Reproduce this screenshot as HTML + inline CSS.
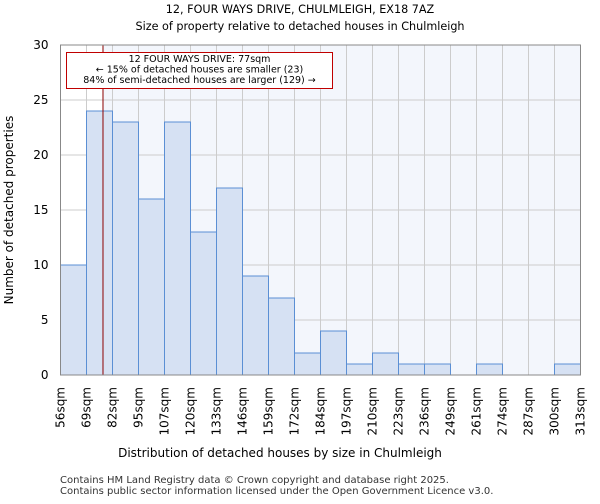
<!DOCTYPE html>
<html><head><meta charset="utf-8"><style>
body{margin:0;background:#fff;font-family:"DejaVu Sans","Liberation Sans",sans-serif;}
</style></head><body>
<svg id="chart" width="600" height="500" xmlns="http://www.w3.org/2000/svg" font-family="DejaVu Sans, Liberation Sans, sans-serif">
<text x="300" y="13" text-anchor="middle" font-size="11.2">12, FOUR WAYS DRIVE, CHULMLEIGH, EX18 7AZ</text>
<text x="300" y="30" text-anchor="middle" font-size="11.2">Size of property relative to detached houses in Chulmleigh</text>
<g id="plot"></g>
<text x="280" y="457" text-anchor="middle" font-size="12">Distribution of detached houses by size in Chulmleigh</text>
<text transform="translate(13,210) rotate(-90)" text-anchor="middle" font-size="12">Number of detached properties</text>
<text x="60" y="483" font-size="10" fill="#333">Contains HM Land Registry data © Crown copyright and database right 2025.</text>
<text x="60" y="494" font-size="10" fill="#333">Contains public sector information licensed under the Open Government Licence v3.0.</text>
</svg>
<script>
const binLabels=["56sqm","69sqm","82sqm","95sqm","107sqm","120sqm","133sqm","146sqm","159sqm","172sqm","184sqm","197sqm","210sqm","223sqm","236sqm","249sqm","261sqm","274sqm","287sqm","300sqm","313sqm"];
const counts=[10,24,23,16,23,13,17,9,7,2,4,1,2,1,1,0,1,0,0,1];
const yTicks=[0,5,10,15,20,25,30];
const markerValue=77;
const xMin=56,xMax=313;
const L=60.5,R=580.5,T=45,B=375,yMax=30;
const NS="http://www.w3.org/2000/svg";
const g=document.getElementById('plot');
const n=counts.length;
const xb=i=>L+(R-L)*i/n;
const xv=v=>L+(R-L)*(v-xMin)/(xMax-xMin);
const y=v=>B-(B-T)*v/yMax;
function mk(t,a){const e=document.createElementNS(NS,t);for(const k in a)e.setAttribute(k,a[k]);g.appendChild(e);return e;}
let e;
e=mk('rect',{x:L,y:T,width:R-L,height:B-T,fill:'#fff'});


const mx=xv(markerValue);
e=mk('rect',{x:mx,y:T,width:R-mx,height:B-T,fill:'#f3f6fc'});


for(let i=0;i<=n;i++){e=mk('line',{x1:xb(i),x2:xb(i),y1:T,y2:B,stroke:'#ccc','stroke-width':1});

}
yTicks.forEach(t=>{e=mk('line',{x1:L,x2:R,y1:y(t),y2:y(t),stroke:'#ccc','stroke-width':1});


e=mk('text',{x:L-12,y:y(t)+4,'text-anchor':'end','font-size':12});e.textContent=t;

});
counts.forEach((c,i)=>{if(c<=0)return;e=mk('rect',{x:xb(i),y:y(c),width:xb(i+1)-xb(i),height:B-y(c),fill:'#d6e1f3',stroke:'#5b8fd4','stroke-width':1});

});
binLabels.forEach((l,i)=>{const xx=xb(i)+4;e=mk('text',{transform:`translate(${xx},387) rotate(-90)`,'text-anchor':'end','font-size':12});e.textContent=l;

});
e=mk('line',{x1:mx,x2:mx,y1:T,y2:B,stroke:'#8b0000','stroke-width':1});


e=mk('rect',{x:66.5,y:52.5,width:266,height:36,fill:'#fff',stroke:'#c00000','stroke-width':1});


["12 FOUR WAYS DRIVE: 77sqm","← 15% of detached houses are smaller (23)","84% of semi-detached houses are larger (129) →"].forEach((s,i)=>{e=mk('text',{x:199.5,y:62+i*10.5,'text-anchor':'middle','font-size':9.5});e.textContent=s;

});
e=mk('rect',{x:L,y:T,width:R-L,height:B-T,fill:'none',stroke:'#888','stroke-width':1});


</script>
</body></html>
